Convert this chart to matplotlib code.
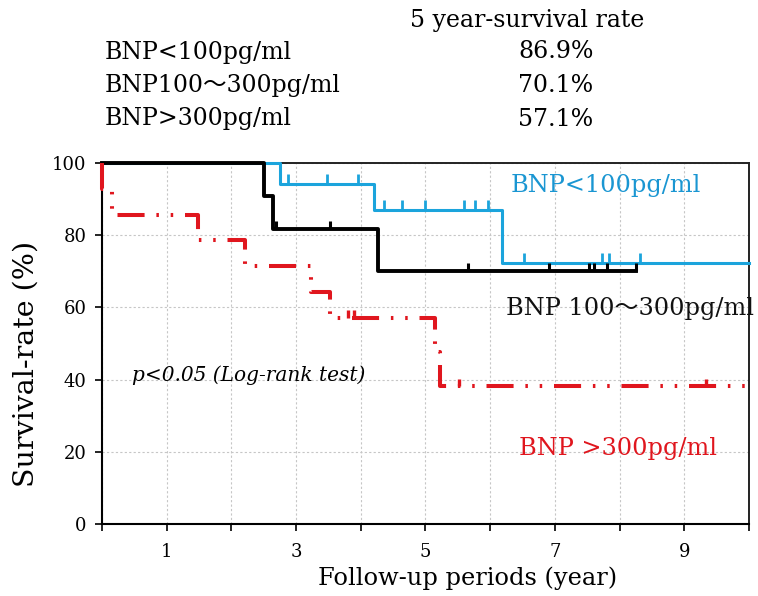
import matplotlib
matplotlib.use("Agg")
import matplotlib.pyplot as plt
import numpy as np

plt.rcParams['font.family'] = ['DejaVu Serif', 'Noto Sans CJK JP']
plt.rcParams['lines.scale_dashes'] = False

# Kaplan-Meier steps (time in years, survival in %)
low_t = [0, 2.75, 4.21, 6.19, 10.0]
low_s = [100, 94.1, 86.9, 72.4, 72.4]
low_cens = [2.87, 3.48, 3.95, 4.36, 4.63, 4.99, 5.60, 5.77, 5.97, 6.53, 7.73, 7.84, 8.31]

mid_t = [0, 2.50, 2.64, 4.26, 8.26]
mid_s = [100, 90.9, 81.8, 70.1, 70.1]
mid_cens = [2.69, 3.53, 5.65, 6.91, 7.53, 7.60, 7.80, 8.26]

high_t = [0, 0, 0.155, 1.49, 2.21, 3.23, 3.52, 5.14, 5.23, 10.0]
high_s = [100, 92.9, 85.7, 78.6, 71.4, 64.3, 57.1, 47.6, 38.1, 38.1]
high_cens = [3.81, 3.89, 5.52, 9.33]

groups = ['BNP<100pg/ml', 'BNP100〜300pg/ml', 'BNP>300pg/ml']
rates = ['86.9%', '70.1%', '57.1%']

BLUE = '#1ba4dc'
RED = '#e0161e'


def level_at(times, surv, t):
    i = np.searchsorted(times, t, side='right') - 1
    return np.array(surv)[i]


fig = plt.figure(figsize=(7.58, 5.96), dpi=100)
ax = fig.add_axes([0.1346, 0.1208, 0.8534, 0.6057])

ax.step(low_t, low_s, where='post', color=BLUE, lw=2.2, clip_on=False, zorder=3)
y = level_at(low_t, low_s, low_cens)
ax.vlines(low_cens, y, y + 2.8, color=BLUE, lw=2.0, zorder=3)

ax.step(mid_t, mid_s, where='post', color='black', lw=2.8, clip_on=False, zorder=4)
y = level_at(mid_t, mid_s, mid_cens)
ax.vlines(mid_cens, y, y + 2.2, color='black', lw=2.2, zorder=4)

ax.step(high_t, high_s, where='post', color=RED, lw=2.9, clip_on=False, zorder=5,
        linestyle=(0, (19.5, 8.5, 1.8, 8.5, 1.8, 8.5)))
y = level_at(high_t, high_s, high_cens)
ax.vlines(high_cens, y, y + 2.2, color=RED, lw=2.4, zorder=5)

ax.set_xlim(0, 10)
ax.set_ylim(0, 100)
ax.set_xticks(range(11))
ax.set_xticklabels([str(i) if i % 2 == 1 else '' for i in range(11)])
ax.set_yticks(range(0, 101, 20))
ax.tick_params(direction='out', length=5, width=1.2, labelsize=13)
ax.tick_params(axis='x', pad=9)
ax.tick_params(axis='y', pad=6)
ax.grid(True, color='#c6c6c6', lw=0.8, linestyle=(0, (1.6, 1.6)))
ax.set_axisbelow(True)
for side in ['left', 'bottom']:
    ax.spines[side].set_linewidth(1.5)
for side in ['top', 'right']:
    ax.spines[side].set_linewidth(1.4)
    ax.spines[side].set_color('#222222')

ax.text(6.31, 93.9, 'BNP<100pg/ml', color='#1a96d2', fontsize=17.3, va='center')
ax.text(6.25, 59.8, 'BNP 100〜300pg/ml', color='#111111', fontsize=17.3, va='center', clip_on=False)
ax.text(6.45, 21.0, 'BNP >300pg/ml', color=RED, fontsize=17.3, va='center')
ax.text(0.46, 41.3, 'p<0.05 (Log-rank test)', fontsize=14.5, style='italic', va='center')

fig.text(26 / 758, 1 - 364 / 596, 'Survival-rate (%)', rotation=90, fontsize=20.5,
         ha='center', va='center')
fig.text(468 / 758, 1 - 578 / 596, 'Follow-up periods (year)', fontsize=17.4,
         ha='center', va='center')

fig.text(527 / 758, 1 - 20 / 596, '5 year-survival rate', fontsize=17, ha='center', va='center')
for i, (g, r) in enumerate(zip(groups, rates)):
    yy = 1 - (52 + 33.5 * i) / 596
    fig.text(105 / 758, yy, g, fontsize=17, ha='left', va='center')
    fig.text(556 / 758, yy, r, fontsize=17, ha='center', va='center')

fig.savefig('out.png', dpi=100)
